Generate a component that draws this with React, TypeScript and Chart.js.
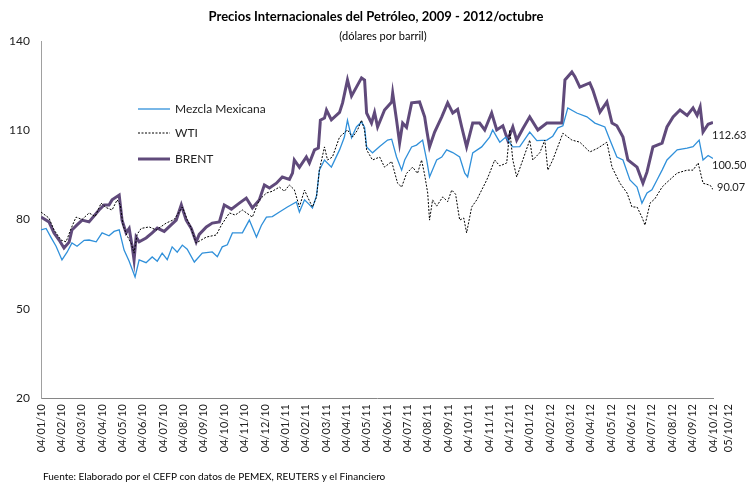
import React, { useEffect, useRef } from "react";
import { Chart, registerables } from "chart.js";

Chart.register(...registerables);

// X positions are in months since 04/01/2010 (0 = 04/01/10, 33 = 04/10/12)
const xTickLabels = [
  "04/01/10", "04/02/10", "04/03/10", "04/04/10", "04/05/10", "04/06/10",
  "04/07/10", "04/08/10", "04/09/10", "04/10/10", "04/11/10", "04/12/10",
  "04/01/11", "04/02/11", "04/03/11", "04/04/11", "04/05/11", "04/06/11",
  "04/07/11", "04/08/11", "04/09/11", "04/10/11", "04/11/11", "04/12/11",
  "04/01/12", "04/02/12", "04/03/12", "04/04/12", "04/05/12", "04/06/12",
  "04/07/12", "04/08/12", "04/09/12", "04/10/12", "05/10/12",
];
const xTickValues = [
  0, 1, 2, 3, 4, 5, 6, 7, 8, 9, 10, 11, 12, 13, 14, 15, 16, 17, 18, 19, 20,
  21, 22, 23, 24, 25, 26, 27, 28, 29, 30, 31, 32, 33, 33.75,
];
const yTickValues = [20, 50, 80, 110, 140];

const brentT = [
  0, 0.39, 0.64, 0.89, 1.13, 1.38, 1.52, 1.77, 2.02, 2.36, 2.85, 3.1, 3.34, 3.49, 3.84, 3.98,
  4.18, 4.33, 4.48, 4.57, 4.67, 4.82, 5.16, 5.46, 5.71, 6.05, 6.39, 6.64, 6.89, 7.13, 7.38,
  7.62, 7.77, 8.12, 8.41, 8.76, 9.0, 9.35, 9.74, 10.08, 10.38, 10.72, 10.97, 11.22, 11.56,
  11.85, 12.2, 12.35, 12.44, 12.69, 13.03, 13.18, 13.43, 13.62, 13.72, 13.92, 14.02, 14.26,
  14.66, 14.81, 15.05, 15.25, 15.49, 15.74, 15.89, 15.99, 16.23, 16.38, 16.53, 16.87, 17.22,
  17.27, 17.46, 17.61, 17.76, 17.95, 18.2, 18.59, 18.84, 18.94, 19.08, 19.33, 19.68, 19.97,
  20.22, 20.46, 20.66, 20.9, 21.2, 21.54, 21.79, 22.13, 22.38, 22.68, 22.92, 23.17, 23.36,
  23.66, 24.0, 24.4, 24.84, 25.58, 25.73, 26.07, 26.22, 26.46, 26.95, 27.1, 27.45, 27.79,
  28.04, 28.28, 28.58, 28.82, 29.27, 29.56, 29.76, 30.05, 30.5, 30.74, 31.04, 31.38, 31.73,
  32.02, 32.22, 32.37, 32.51, 32.76, 33.0,
];
const brentV = [
  80.8, 79.2, 75.5, 73.1, 70.4, 72.4, 76.5, 78.2, 79.8, 79.2, 83.2, 84.9, 84.9, 86.6, 88.2, 79.8,
  75.5, 77.0, 70.8, 66.4, 74.1, 72.5, 73.8, 75.5, 77.1, 76.0, 78.2, 79.8, 84.9, 79.8, 77.0,
  72.4, 75.0, 77.5, 78.8, 79.2, 84.9, 83.5, 85.5, 87.2, 83.9, 86.6, 91.6, 90.6, 92.2,
  94.3, 93.5, 95.6, 100.0, 97.5, 101.0, 99.0, 103.4, 104.0, 113.4, 114.1, 116.8, 113.5,
  116.0, 119.2, 126.9, 121.5, 124.5, 127.6, 126.9, 115.8, 112.4, 116.0, 111.1, 116.8, 119.5,
  122.5, 113.4, 105.7, 112.4, 111.0, 119.2, 119.5, 114.5, 110.1, 104.4, 109.4, 114.5, 119.2,
  115.8, 117.0, 111.1, 104.4, 112.4, 112.4, 110.1, 115.8, 110.1, 111.5, 106.7, 111.1, 106.7,
  110.5, 114.5, 110.1, 112.4, 112.4, 126.9, 129.6, 128.0, 124.5, 125.9, 123.5, 116.1, 119.5,
  112.4, 111.5, 107.7, 100.0, 97.6, 92.2, 96.0, 104.4, 105.7, 111.1, 114.5, 116.8, 115.0,
  117.5, 115.0, 117.8, 109.4, 112.0, 112.63,
];

const wtiT = [
  0, 0.39, 0.64, 0.98, 1.23, 1.48, 1.72, 2.02, 2.36, 2.66, 2.95, 3.2, 3.49, 3.74, 3.89, 4.03,
  4.23, 4.43, 4.57, 4.72, 4.92, 5.31, 5.66, 6.15, 6.54, 6.94, 7.18, 7.38, 7.62, 8.12, 8.61,
  8.85, 9.25, 9.54, 9.89, 10.38, 10.72, 11.07, 11.36, 11.71, 11.95, 12.2, 12.44, 12.69, 12.94,
  13.13, 13.33, 13.53, 13.67, 13.92, 14.07, 14.31, 14.66, 15.05, 15.3, 15.54, 15.74, 15.89,
  15.99, 16.28, 16.63, 16.87, 17.22, 17.51, 17.71, 17.95, 18.25, 18.49, 18.69, 18.84, 18.99,
  19.08, 19.23, 19.43, 19.73, 19.97, 20.17, 20.36, 20.56, 20.76, 20.9, 21.15, 21.4, 21.64,
  21.89, 22.03, 22.28, 22.53, 22.87, 23.02, 23.17, 23.36, 23.66, 24.0, 24.15, 24.5, 24.74,
  24.89, 25.13, 25.63, 26.07, 26.46, 26.95, 27.35, 27.79, 28.04, 28.43, 28.78, 29.02, 29.27,
  29.51, 29.66, 29.91, 30.15, 30.5, 30.74, 31.24, 31.73, 32.02, 32.27, 32.51, 32.86, 33.0,
];
const wtiV = [
  82.5, 80.5, 76.5, 73.1, 72.5, 77.0, 80.8, 80.0, 82.2, 81.0, 85.5, 84.0, 83.2, 86.6, 85.0, 78.0,
  74.5, 72.0, 68.7, 75.0, 77.0, 77.5, 76.5, 78.8, 80.0, 84.2, 80.0, 77.0, 72.1, 74.1, 74.8,
  78.0, 82.2, 81.5, 83.2, 80.8, 86.6, 88.9, 89.5, 90.9, 89.5, 91.6, 90.0, 84.2, 89.9,
  87.0, 84.2, 87.5, 96.6, 104.4, 100.0, 101.0, 107.7, 110.1, 107.7, 110.0, 113.4, 110.0,
  103.4, 100.0, 101.0, 97.6, 99.5, 92.2, 90.9, 95.5, 97.6, 95.5, 100.0, 95.0, 88.9,
  79.8, 86.6, 84.5, 87.6, 86.0, 89.9, 88.5, 79.8, 80.5, 75.5, 84.2, 86.6, 89.9,
  93.3, 95.6, 100.0, 98.0, 99.0, 110.1, 100.0, 94.3, 100.0, 106.7, 100.0, 102.5, 106.7,
  96.6, 100.0, 109.0, 106.7, 106.0, 102.7, 104.0, 106.0, 97.6, 92.2, 88.9, 84.2, 84.2,
  80.8, 78.1, 85.5, 87.0, 90.9, 92.5, 95.6, 96.6, 96.6, 99.0, 92.2, 91.5, 90.07,
];

const mezclaT = [
  0, 0.25, 0.49, 0.74, 1.03, 1.28, 1.52, 1.77, 2.12, 2.36, 2.71, 3.0, 3.34, 3.59, 3.84, 4.08,
  4.33, 4.62, 4.82, 5.16, 5.46, 5.71, 5.95, 6.2, 6.44, 6.69, 6.94, 7.18, 7.53, 7.92, 8.41,
  8.66, 8.9, 9.15, 9.4, 9.89, 10.23, 10.58, 10.82, 11.07, 11.36, 11.71, 12.1, 12.54, 12.69,
  12.94, 13.18, 13.33, 13.53, 13.67, 13.92, 14.26, 14.66, 14.9, 15.05, 15.25, 15.49, 15.74,
  15.89, 15.99, 16.28, 16.63, 17.02, 17.22, 17.46, 17.71, 17.86, 18.2, 18.44, 18.74, 18.94,
  19.08, 19.43, 19.68, 19.92, 20.22, 20.56, 20.81, 20.95, 21.2, 21.64, 22.03, 22.18, 22.53,
  22.82, 23.17, 23.51, 24.0, 24.35, 24.84, 25.13, 25.38, 25.63, 25.87, 26.31, 26.81, 27.2,
  27.69, 27.94, 28.28, 28.58, 28.92, 29.27, 29.51, 29.76, 30.0, 30.25, 30.5, 30.74, 31.24,
  31.73, 32.02, 32.32, 32.51, 32.76, 33.0,
];
const mezclaV = [
  76.5, 77.0, 74.0, 71.0, 66.4, 69.0, 72.1, 71.0, 73.0, 73.1, 72.5, 75.5, 74.5, 76.0, 76.5, 69.7,
  66.0, 60.7, 66.4, 65.5, 67.4, 66.0, 68.7, 66.5, 70.8, 69.0, 71.4, 70.0, 65.7, 68.7, 69.1,
  67.5, 70.8, 71.5, 75.5, 75.5, 79.8, 74.1, 78.0, 80.8, 81.0, 82.5, 84.2, 85.9, 82.5,
  86.6, 85.0, 83.9, 88.0, 96.6, 100.0, 97.6, 103.4, 107.7, 113.4, 107.5, 111.1, 112.8,
  111.0, 104.4, 102.4, 104.5, 106.7, 107.0, 101.0, 96.6, 100.0, 104.4, 105.0, 106.7, 100.0,
  94.3, 100.0, 101.0, 103.4, 102.5, 101.0, 95.6, 94.3, 102.4, 104.4, 107.7, 110.1, 106.0,
  107.7, 104.4, 104.5, 109.4, 106.5, 106.7, 108.0, 110.8, 111.5, 117.5, 115.8, 114.5, 112.4,
  111.1, 106.7, 101.0, 100.0, 93.3, 90.9, 85.5, 88.9, 90.0, 93.3, 96.6, 100.0, 103.4,
  104.0, 104.5, 106.7, 100.0, 101.5, 100.5,
];

const FONT = "Lato, 'Liberation Sans', sans-serif";
const BLUE = "#3090DA";
const PURPLE = "#604A7B";

const toPts = (t: number[], v: number[]) => t.map((x, i) => ({ x, y: v[i] }));

const overlay = {
  id: "overlay",
  afterDraw(chart: any) {
    const { ctx, chartArea, scales } = chart;
    ctx.save();
    // title and subtitle
    ctx.fillStyle = "#000";
    ctx.textAlign = "center";
    ctx.textBaseline = "middle";
    ctx.font = `bold 13px ${FONT}`;
    ctx.fillText("Precios Internacionales del Petróleo, 2009 - 2012/octubre", 376, 17);
    ctx.font = `11px ${FONT}`;
    ctx.fillText("(dólares por barril)", 383, 36);

    // legend
    const lx = chartArea.left + 97;
    const items = [
      { label: "Mezcla Mexicana", color: BLUE, width: 1.3, dash: [] as number[], y: 109 },
      { label: "WTI", color: "#000", width: 1, dash: [2, 1.5], y: 133 },
      { label: "BRENT", color: PURPLE, width: 3, dash: [] as number[], y: 159 },
    ];
    ctx.textAlign = "left";
    ctx.font = `12px ${FONT}`;
    for (const it of items) {
      ctx.beginPath();
      ctx.strokeStyle = it.color;
      ctx.lineWidth = it.width;
      ctx.setLineDash(it.dash);
      ctx.moveTo(lx, it.y);
      ctx.lineTo(lx + 32, it.y);
      ctx.stroke();
      ctx.setLineDash([]);
      ctx.fillStyle = "#222";
      ctx.fillText(it.label, lx + 37, it.y);
    }

    // end-value labels
    const xs = scales.x;
    const ys = scales.y;
    const ends = [
      { v: brentV[brentV.length - 1], dx: -1, dy: 13 },
      { v: mezclaV[mezclaV.length - 1], dx: -1, dy: 7 },
      { v: wtiV[wtiV.length - 1], dx: 4, dy: -2 },
    ];
    ctx.font = `11px ${FONT}`;
    ctx.fillStyle = "#222";
    for (const e of ends) {
      const px = xs.getPixelForValue(33) + e.dx;
      const py = ys.getPixelForValue(e.v) + e.dy;
      ctx.fillText(e.v.toFixed(2), px, py);
    }

    // footer
    ctx.font = `10px ${FONT}`;
    ctx.fillStyle = "#000";
    ctx.fillText("Fuente: Elaborado por el CEFP con datos de PEMEX, REUTERS y el Financiero", 43, 477);
    ctx.restore();
  },
};

export default function App() {
  const ref = useRef<HTMLCanvasElement>(null);
  useEffect(() => {
    document.body.style.margin = "0";
    const chart = new Chart(ref.current as HTMLCanvasElement, {
      type: "line",
      data: {
        datasets: [
          {
            label: "WTI",
            data: toPts(wtiT, wtiV),
            borderColor: "#000",
            borderWidth: 1,
            borderDash: [2, 1.5],
            pointRadius: 0,
            fill: false,
            tension: 0,
          },
          {
            label: "Mezcla Mexicana",
            data: toPts(mezclaT, mezclaV),
            borderColor: BLUE,
            borderWidth: 1.3,
            pointRadius: 0,
            fill: false,
            tension: 0,
          },
          {
            label: "BRENT",
            data: toPts(brentT, brentV),
            borderColor: PURPLE,
            borderWidth: 3,
            pointRadius: 0,
            fill: false,
            tension: 0,
          },
        ],
      },
      options: {
        responsive: false,
        animation: false,
        devicePixelRatio: 1,
        layout: { padding: { left: 0, right: 35, top: 41, bottom: 27 } },
        plugins: {
          legend: { display: false },
          tooltip: { enabled: false },
          title: { display: false },
        },
        scales: {
          x: {
            type: "linear",
            min: 0,
            max: 33,
            afterBuildTicks: (s: any) => {
              s.ticks = xTickValues.map((v) => ({ value: v }));
            },
            afterFit: (s: any) => {
              s.height = 60;
            },
            ticks: {
              autoSkip: false,
              minRotation: 90,
              maxRotation: 90,
              padding: 6,
              color: "#222",
              font: { family: FONT, size: 11 },
              callback: (_v: any, i: number) => xTickLabels[i],
            },
            grid: { display: false, drawTicks: false },
            border: { display: true, color: "#868686", width: 1 },
          },
          y: {
            type: "linear",
            min: 20,
            max: 140,
            afterBuildTicks: (s: any) => {
              s.ticks = yTickValues.map((v) => ({ value: v }));
            },
            afterFit: (s: any) => {
              s.width = 41;
            },
            ticks: {
              padding: 11,
              color: "#222",
              font: { family: FONT, size: 12 },
            },
            grid: { display: false, drawTicks: false },
            border: { display: true, color: "#a0a0a0", width: 1 },
          },
        },
      },
      plugins: [overlay],
    });
    return () => chart.destroy();
  }, []);
  return (
    <div style={{ width: 748, height: 485 }}>
      <canvas ref={ref} width={748} height={485} style={{ display: "block" }} />
    </div>
  );
}
